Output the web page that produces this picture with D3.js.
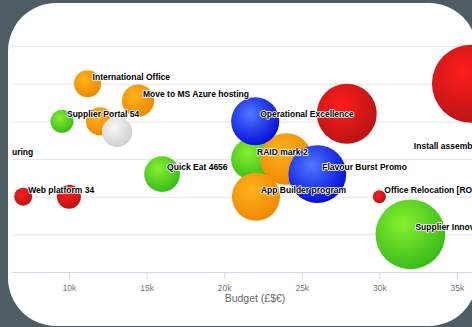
<!DOCTYPE html>
<html>
<head>
<meta charset="utf-8">
<script src="https://cdn.jsdelivr.net/npm/d3@7"></script>
<style>
  body { margin: 0; background: #4e5c63; }
  svg { display: block; }
  text { font-family: "Liberation Sans", Arial, sans-serif; }
</style>
</head>
<body>
<svg id="bubble" width="472" height="327"></svg>
<script>
/* project bubble chart */
const projectNames = [
    "International Office", "Move to MS Azure hosting", "Supplier Portal 54",
    "Intranet Refresh", "Data Warehouse", "Manufacturing", "Quick Eat 4656",
    "Web platform 34", "CRM Upgrade", "Operational Excellence", "RAID mark 2",
    "Call Centre Migration", "Flavour Burst Promo", "App Builder program",
    "ERP Rollout", "Global Rebrand", "Install assembly line",
    "Office Relocation [ROI]", "Supplier Innovation"
];
const projectBudget = [11200, 14450, 9550, 12000, 13100, 3600, 16000, 7050, 10000,
    22000, 21800, 24000, 26000, 22050, 27900, 35900, 31900, 30000, 32000];
const projectScore = [5, 4.55, 4, 4, 3.72, 3, 2.6, 2, 2,
    4, 3, 3, 2.6, 2, 4.2, 5, 3.15, 2, 1];
const projectSize = [12, 17, 8.7, 13, 15, 0, 21, 5.3, 9.5,
    38, 29, 44, 55, 38, 59, 100, 0, 2.8, 80];
const projectStatus = ["amber", "amber", "green", "amber", "grey", "red", "green", "red", "red",
    "blue", "green", "amber", "blue", "amber", "red", "red", "red", "red", "green"];
const budgetTicks = [10000, 15000, 20000, 25000, 30000, 35000];
const scoreTicks = [1, 2, 3, 4, 5, 6];

// draw order follows series order
const statusOrder = ["red", "green", "amber", "blue", "grey"];
const statusColors = {
    red: ["#ff1c1c", "#b51414"],
    green: ["#86f02e", "#36b81a"],
    amber: ["#ffb21e", "#ee8600"],
    blue: ["#4f78ff", "#0008d8"],
    grey: ["#f7f7f7", "#cdcdcd"]
};

const svg = d3.select("svg#bubble");
const plot = { left: 12, right: 472, top: 0, bottom: 272 };

const data = projectNames.map((name, i) => ({
    name: name,
    budget: projectBudget[i],
    score: projectScore[i],
    size: projectSize[i],
    status: projectStatus[i],
    idx: i
}));

// card
svg.append("rect")
    .attr("x", 8)
    .attr("y", 3)
    .attr("width", 469)
    .attr("height", 323)
    .attr("rx", 48)
    .attr("fill", "#ffffff");

// gradients
const defs = svg.append("defs");
Object.keys(statusColors).forEach((k) => {
    let grad = defs.append("radialGradient")
        .attr("id", "grad-" + k)
        .attr("cx", "0.4")
        .attr("cy", "0.35")
        .attr("r", "0.7");
    grad.append("stop").attr("offset", "0%").attr("stop-color", statusColors[k][0]);
    grad.append("stop").attr("offset", "100%").attr("stop-color", statusColors[k][1]);
});
defs.append("clipPath")
    .attr("id", "plotclip")
    .append("rect")
    .attr("x", plot.left)
    .attr("y", plot.top)
    .attr("width", plot.right - plot.left)
    .attr("height", plot.bottom - plot.top);

// scales
const xScale = d3.scaleLinear().domain([6330, 36290]).range([12, 477]);
const yScale = d3.scaleLinear().domain([0, 6]).range([272, 46]);
const rScale = d3.scaleSqrt().domain([0, 100]).range([0, 39]);

// gridlines
let yGridlines = d3.axisLeft(yScale)
    .tickValues(scoreTicks)
    .tickSize(-(plot.right - plot.left))
    .tickFormat("");
let grid = svg.append("g")
    .attr("class", "y gridlines")
    .attr("transform", `translate(${plot.left},0)`)
    .call(yGridlines);
grid.select(".domain").remove();
grid.selectAll("line").attr("stroke", "#e6e6e6");

// budget axis
let bottomAxis = d3.axisBottom(xScale)
    .tickValues(budgetTicks)
    .tickFormat((d) => d / 1000 + "k")
    .tickSize(7)
    .tickSizeOuter(0)
    .tickPadding(6);
let xAxis = svg.append("g")
    .attr("class", "x axis")
    .attr("transform", `translate(0,${plot.bottom})`)
    .call(bottomAxis);
xAxis.select(".domain").attr("stroke", "#ccd6eb");
xAxis.selectAll("line").attr("stroke", "#ccd6eb");
xAxis.selectAll("text")
    .attr("fill", "#777")
    .style("font-size", "8.5px")
    .style("font-family", "Liberation Sans, Arial, sans-serif");

svg.append("text")
    .text("Budget (£$€)")
    .attr("x", 255)
    .attr("y", 302)
    .attr("text-anchor", "middle")
    .attr("fill", "#666")
    .style("font-size", "10.5px");

// bubbles
let plotArea = svg.append("g").attr("clip-path", "url(#plotclip)");
let sorted = data.slice().sort((a, b) =>
    statusOrder.indexOf(a.status) - statusOrder.indexOf(b.status) || a.idx - b.idx);
plotArea.selectAll("circle.bubble")
    .data(sorted.filter((d) => d.size > 0))
    .join("circle")
    .attr("class", "bubble")
    .attr("cx", (d) => xScale(d.budget))
    .attr("cy", (d) => yScale(d.score))
    .attr("r", (d) => rScale(d.size))
    .attr("fill", (d) => `url(#grad-${d.status})`);

// labels (skip ones that start past the plot edge)
let labels = plotArea.selectAll("text.label")
    .data(data.filter((d) => xScale(d.budget) + 5 < plot.right))
    .join("text")
    .attr("class", "label")
    .text((d) => d.name)
    .attr("x", (d) => xScale(d.budget) + 5)
    .attr("y", (d) => yScale(d.score) - 7)
    .attr("dominant-baseline", "central")
    .attr("fill", "#000")
    .attr("stroke", "#fff")
    .attr("stroke-width", 1.6)
    .attr("stroke-linejoin", "round")
    .style("paint-order", "stroke")
    .style("font-size", "8.5px")
    .style("font-weight", "bold");

// hide overlapping labels, first one wins
let placed = [];
labels.each(function (d) {
    let b = this.getBBox();
    let box = { x0: b.x - 2, x1: b.x + b.width + 2, y0: b.y - 1.5, y1: b.y + b.height + 1.5 };
    let hit = placed.some((p) => box.x0 < p.x1 && box.x1 > p.x0 && box.y0 < p.y1 && box.y1 > p.y0);
    if (hit) {
        d3.select(this).attr("visibility", "hidden");
    } else {
        placed.push(box);
    }
});
</script>
</body>
</html>
